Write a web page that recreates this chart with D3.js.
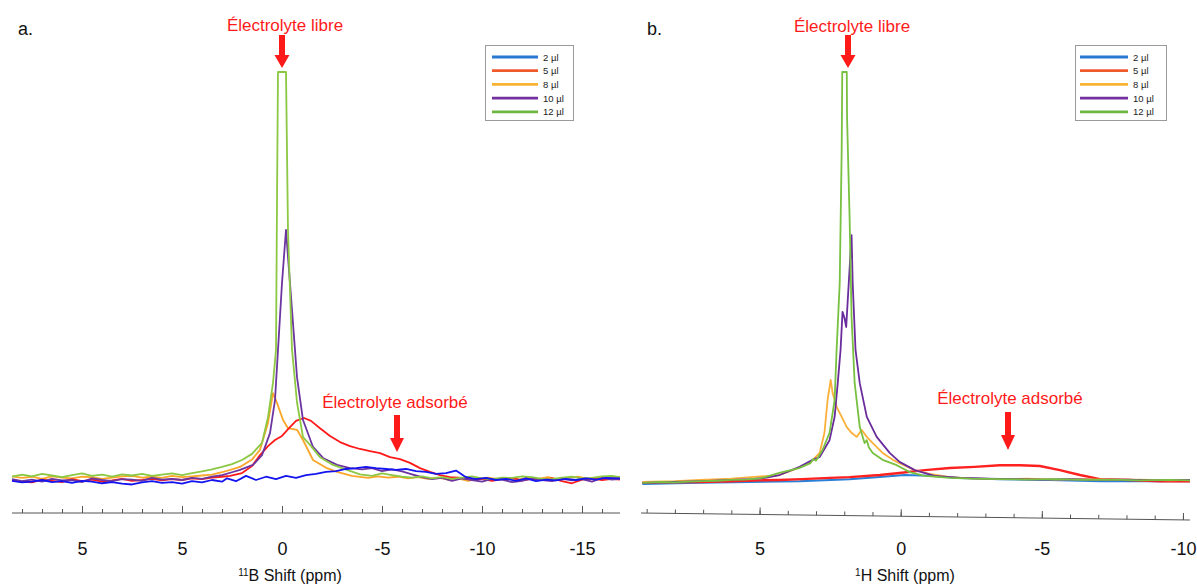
<!DOCTYPE html>
<html><head><meta charset="utf-8">
<script src="https://cdn.jsdelivr.net/npm/d3@7"></script>
<style>
html,body{margin:0;padding:0;background:#fff;}
svg{display:block;font-family:"Liberation Sans",Arial,sans-serif;}
</style></head>
<body>
<svg id="chart" width="1197" height="586"></svg>
<script>
// ---------------- DATA ----------------
const seriesNames = ["2 µl","5 µl","8 µl","10 µl","12 µl"];
const legendColors = ["#2a78d2","#ef5a2c","#f8b332","#7530a0","#6fb640"];

// Panel a: 11B spectra [ppm, intensity]
const a2 = [[13.5,-0.2],[13,-0.6],[12.5,-0.4],[12,0.0],[11.5,-0.5],[11,-0.3],[10.5,-0.7],[10,-0.2],[9.5,-0.4],[9,-0.8],[8.5,-0.5],[8,-0.9],[7.5,-1.1],[7,-0.6],[6.5,-0.3],[6,-0.7],[5.5,-0.5],[5,-0.9],[4.5,-0.3],[4,-0.6],[3.5,0.0],[3,-0.4],[2.75,0.4],[2.3,-0.3],[1.8,1.0],[1.3,0.0],[0.8,0.8],[0.3,0.2],[-0.2,1.0],[-0.7,0.5],[-1.2,1.2],[-1.7,1.5],[-2.2,2.0],[-2.7,2.2],[-3.2,2.7],[-3.7,2.9],[-4.2,3.2],[-4.7,2.9],[-5.2,2.7],[-5.7,2.5],[-6.2,2.7],[-6.7,2.2],[-7.2,2.0],[-7.7,1.5],[-8.2,1.7],[-8.7,2.3],[-9.2,0.7],[-9.7,0.2],[-10.2,0.5],[-10.7,0.0],[-11.2,0.3],[-11.7,-0.2],[-12.2,0.4],[-12.7,-0.3],[-13.2,0.1],[-13.7,-0.1],[-14.2,0.3],[-14.7,0.0],[-15.2,0.4],[-15.7,0.1],[-16.2,0.5],[-16.9,0.4]];
const a5 = [[13.5,0.0],[13,-0.4],[12.5,-0.6],[12,0.1],[11.5,-0.2],[11,-0.5],[10.5,0.2],[10,-0.3],[9.5,0.1],[9,-0.4],[8.5,-0.1],[8,0.3],[7.5,-0.2],[7,0.0],[6.5,0.3],[6,-0.1],[5.5,0.2],[5,0.0],[4.5,0.4],[4,0.2],[3.5,0.6],[3.0,0.8],[2.6,1.0],[2,1.7],[1.5,3.4],[1.1,6.1],[0.7,8.3],[0.35,9.8],[0,10.8],[-0.35,12.7],[-0.7,14.5],[-1.1,15.2],[-1.45,14.5],[-1.9,12.7],[-2.4,10.8],[-2.9,9.3],[-3.4,8.3],[-3.9,7.6],[-4.4,7.1],[-4.9,6.6],[-5.4,5.6],[-5.9,5.1],[-6.4,4.2],[-6.9,2.9],[-7.4,2.0],[-7.9,1.2],[-8.4,0.7],[-9,0.5],[-9.5,0.1],[-10,0.3],[-10.5,-0.2],[-11,0.2],[-11.5,0.5],[-12,-0.1],[-12.5,0.3],[-13,0.0],[-13.5,0.4],[-14,-0.3],[-14.5,-0.8],[-15,0.1],[-15.5,0.4],[-16,0.0],[-16.5,0.3],[-16.9,0.1]];
const a8 = [[13.5,0.9],[13,0.5],[12.5,0.8],[12,0.3],[11.5,0.9],[11,0.6],[10.5,0.4],[10,0.8],[9.5,0.7],[9,0.3],[8.5,0.6],[8,0.9],[7.5,1.0],[7,0.6],[6.5,0.8],[6,0.5],[5.5,1.0],[5,0.7],[4.5,0.9],[4,1.1],[3.5,1.3],[3.0,1.9],[2.5,2.6],[2.1,3.2],[1.5,5.0],[1.1,7.4],[0.7,14.0],[0.45,21.3],[0.25,18.9],[-0.05,14.7],[-0.3,12.7],[-0.75,12.3],[-1.05,9.8],[-1.55,4.9],[-2.25,2.9],[-2.75,2.0],[-3.5,1.0],[-4.3,0.5],[-4.8,0.9],[-5.3,0.6],[-5.8,0.8],[-6.3,0.4],[-6.8,0.7],[-7.3,0.3],[-7.8,0.6],[-8.3,0.1],[-8.8,0.4],[-9.3,-0.2],[-9.8,0.3],[-10.3,0.6],[-10.8,0.2],[-11.3,0.5],[-11.8,0.1],[-12.3,0.6],[-12.8,0.3],[-13.3,0.7],[-13.8,0.2],[-14.3,0.5],[-14.8,0.8],[-15.3,0.3],[-15.8,0.6],[-16.3,0.4],[-16.9,0.7]];
const a10 = [[13.5,0.2],[13,-0.3],[12.5,0.1],[12,-0.4],[11.5,0.3],[11,-0.1],[10.5,0.0],[10,-0.5],[9.5,0.4],[9,0.0],[8.5,-0.3],[8,0.2],[7.5,0.1],[7,-0.2],[6.5,0.5],[6,0.1],[5.5,0.3],[5,0.0],[4.5,0.5],[4,0.3],[3.5,0.8],[3.0,1.2],[2.5,1.9],[2.1,2.5],[1.45,3.7],[1.0,6.1],[0.6,11.5],[0.35,19.6],[0.2,31.9],[0.0,48.3],[-0.2,61.3],[-0.3,54.7],[-0.5,41.7],[-0.75,25.2],[-1.05,14.7],[-1.55,8.1],[-2.05,5.4],[-2.75,3.7],[-3.4,2.9],[-4,2.6],[-4.5,2.9],[-5,2.2],[-5.5,2.6],[-6,2.1],[-6.5,1.4],[-7,0.7],[-7.5,0.2],[-8,0.5],[-8.5,-0.2],[-9,0.4],[-9.5,0.0],[-10,-0.4],[-10.5,0.3],[-11,0.1],[-11.5,-0.5],[-12,-0.2],[-12.5,0.4],[-13,0.0],[-13.5,-0.3],[-14,0.3],[-14.5,-0.1],[-15,0.2],[-15.5,-0.4],[-16,0.5],[-16.5,0.1],[-16.9,0.3]];
const a12 = [[13.5,0.8],[13,1.3],[12.5,0.9],[12,1.5],[11.5,1.1],[11,0.7],[10.5,1.2],[10,1.6],[9.5,1.0],[9,1.3],[8.5,0.8],[8,1.4],[7.5,1.1],[7,1.5],[6.5,1.0],[6,1.3],[5.5,1.6],[5,1.2],[4.5,1.7],[4,2.1],[3.5,2.6],[3,3.2],[2.5,3.9],[2,4.9],[1.5,6.4],[1.0,9.1],[0.7,15.4],[0.45,23.8],[0.3,31.9],[0.25,68],[0.2,100],[-0.2,100],[-0.3,61],[-0.5,32],[-0.75,19],[-1.05,10.5],[-1.4,8.6],[-1.9,5.6],[-2.55,3.7],[-3.25,2.5],[-3.9,1.4],[-4.5,1.0],[-5,1.6],[-5.5,1.2],[-6,0.8],[-6.5,0.6],[-7,0.9],[-7.5,0.4],[-8,0.7],[-8.5,0.3],[-9,0.6],[-9.5,0.9],[-10,0.4],[-10.5,0.2],[-11,0.6],[-11.5,0.5],[-12,0.9],[-12.5,0.7],[-13,0.3],[-13.5,0.2],[-14,0.6],[-14.5,0.8],[-15,0.4],[-15.5,0.5],[-16,0.9],[-16.5,1.0],[-16.9,0.7]];

// Panel b: 1H spectra [ppm, intensity]
const b2 = [[9.15,-0.5],[7.13,-0.2],[5.35,0.0],[3.58,0.2],[1.81,0.7],[0.74,1.2],[-0.14,1.7],[-1.03,1.5],[-2.1,1.0],[-3.51,0.7],[-5.3,0.5],[-7.06,0.2],[-10.25,0.2]];
const b5 = [[9.15,-0.2],[8.5,-0.1],[7.13,0.0],[6,0.2],[5,0.4],[4.3,0.5],[3.5,0.7],[2.5,1.0],[1.81,1.2],[0.74,1.7],[0.04,2.2],[-0.85,2.9],[-1.74,3.4],[-2.62,3.7],[-3.51,4.1],[-4.22,4.1],[-4.93,3.9],[-5.64,2.9],[-6.35,1.7],[-7.06,0.7],[-8.12,0.5],[-9.18,0.2],[-10.25,0.2]];
const b8 = [[9.15,0.0],[8,0.2],[7.1,0.5],[6,0.8],[5.3,1.2],[4.29,1.7],[3.83,2.9],[3.23,4.6],[2.87,7.1],[2.7,12.0],[2.59,20.0],[2.48,24.9],[2.41,21.7],[2.27,18.3],[2.09,15.9],[1.91,13.4],[1.74,12.0],[1.56,11.0],[1.38,12.7],[1.2,11.0],[0.99,9.5],[0.64,7.1],[0.28,5.4],[0.04,4.6],[-0.5,2.9],[-1.03,2.0],[-1.74,1.2],[-2.5,0.9],[-3.5,0.7],[-4.5,0.8],[-5.5,0.6],[-6.5,0.7],[-7.5,0.5],[-8.5,0.6],[-9.5,0.4],[-10.25,0.5]];
const b10 = [[9.15,-0.2],[8,0.0],[7,0.2],[6,0.5],[5.3,0.7],[4.8,1.0],[4.29,1.7],[3.58,3.7],[3.12,5.4],[2.87,6.1],[2.52,10.2],[2.34,15.9],[2.23,24.1],[2.13,32.2],[2.06,41.5],[1.99,40.0],[1.93,37.8],[1.84,48.5],[1.74,60.2],[1.7,48.5],[1.6,32.2],[1.45,24.1],[1.2,15.9],[0.85,11.0],[0.39,7.1],[0.04,4.9],[-0.5,2.9],[-1.2,1.5],[-2.1,1.0],[-3,0.8],[-4,0.7],[-5,0.6],[-6,0.7],[-7,0.5],[-8,0.6],[-9,0.4],[-10.25,0.5]];
const b12 = [[9.15,-0.2],[8.5,0.0],[8,-0.1],[7.5,0.1],[7,0.2],[6.5,0.3],[6,0.5],[5.5,0.6],[5,0.9],[4.8,1.2],[4.3,2.2],[3.6,3.4],[3.2,4.6],[3.1,5.6],[3.0,5.2],[2.77,7.8],[2.52,12.0],[2.34,20.0],[2.27,32.2],[2.16,48.5],[2.09,81],[2.07,100],[1.91,100],[1.9,89],[1.81,64.6],[1.74,40.2],[1.63,24.1],[1.45,13.4],[1.28,9.5],[1.2,10.2],[1.13,8.5],[0.99,7.1],[0.64,5.4],[0.14,4.1],[-0.32,2.4],[-0.85,1.5],[-1.74,1.0],[-2.5,0.8],[-3.5,0.7],[-4.5,0.6],[-5.5,0.7],[-6.5,0.5],[-7.5,0.6],[-8.5,0.4],[-9.5,0.5],[-10.25,0.4]];

// Tick values and labels
const ticksA = [10,5,0,-5,-10,-15];
const tickLabelsA = ["5","5","0","-5","-10","-15"];
const ticksB = [5,0,-5,-10];
const tickLabelsB = ["5","0","-5","-10"];

// ---------------- DRAW ----------------
const svg = d3.select("#chart");
const RED = "#ff1a1a";

function drawPanel(cfg){
  const x = d3.scaleLinear().domain(cfg.xDomain).range(cfg.xRange);
  const y = d3.scaleLinear().domain([0,100]).range(cfg.yRange);
  const line = d3.line().x(d=>x(d[0])).y(d=>y(d[1])).curve(d3.curveLinear);
  const g = svg.append("g");
  cfg.series.forEach(s=>{
    g.append("path").datum(s.data).attr("d",line)
      .attr("fill","none").attr("stroke",s.color)
      .attr("stroke-width",s.w||1.8).attr("stroke-linejoin","round");
  });
  const ax = svg.append("g")
    .attr("transform",`translate(0,${cfg.axisY}) rotate(${cfg.tilt},${cfg.xRange[0]},0)`);
  const minor = d3.range(Math.floor(cfg.xDomain[0]), Math.ceil(cfg.xDomain[1])-1, -1);
  ax.append("g").call(d3.axisTop(x).tickValues(minor).tickSize(4).tickFormat(""))
    .call(a=>a.select(".domain").remove());
  ax.append("g").call(d3.axisTop(x).tickValues(cfg.ticks).tickSize(7).tickFormat("").tickSizeOuter(0))
    .call(a=>a.select(".domain").attr("d",`M${cfg.xRange[0]},0H${cfg.xRange[1]}`));
  ax.selectAll("line").attr("stroke","#555");
  ax.selectAll(".domain").attr("stroke","#555");
  const lab = svg.append("g").attr("transform",`translate(0,${cfg.axisY})`)
    .call(d3.axisBottom(x).tickValues(cfg.ticks).tickSize(0).tickPadding(29)
      .tickFormat((d,i)=>cfg.tickLabels[i]));
  lab.select(".domain").remove();
  lab.selectAll("text").attr("font-size",18).attr("fill","#111")
    .attr("font-family","'Liberation Sans',Arial,sans-serif");
  const t = svg.append("text").attr("x",cfg.titleX).attr("y",581)
    .attr("text-anchor","middle").attr("font-size",16).attr("fill","#111");
  t.append("tspan").attr("font-size",10).attr("dy",-5).text(cfg.sup);
  t.append("tspan").attr("dy",5).text(cfg.title);
  return {x,y};
}

function arrow(cx, y0, yHead, yTip, shaftW, headW){
  svg.append("path")
    .attr("d",`M${cx-shaftW/2},${y0}H${cx+shaftW/2}V${yHead}H${cx+headW/2}L${cx},${yTip}L${cx-headW/2},${yHead}H${cx-shaftW/2}Z`)
    .attr("fill",RED);
}
function label(txt,x,y){
  svg.append("text").attr("x",x).attr("y",y).attr("text-anchor","middle")
    .attr("font-size",17).attr("fill",RED).text(txt);
}
function legend(x0,y0,w,h,lx0,lx1){
  const g = svg.append("g");
  g.append("rect").attr("x",x0).attr("y",y0).attr("width",w).attr("height",h)
    .attr("fill","#fff").attr("stroke","#9a9a9a").attr("stroke-width",1);
  seriesNames.forEach((n,i)=>{
    const yy = y0+11.5+i*13.7;
    g.append("line").attr("x1",lx0).attr("x2",lx1).attr("y1",yy).attr("y2",yy)
      .attr("stroke",legendColors[i]).attr("stroke-width",2.8);
    g.append("text").attr("x",lx1+5).attr("y",yy+3.5).attr("font-size",9.5)
      .attr("fill","#222").text(n);
  });
}

drawPanel({
  xDomain:[13.5,-16.9], xRange:[12,620], yRange:[480,72], axisY:513, tilt:0,
  ticks:ticksA, tickLabels:tickLabelsA, titleX:290, sup:"11", title:"B Shift (ppm)",
  series:[
    {data:a8, color:"#f9a62a"},
    {data:a5, color:"#ff1a1a"},
    {data:a10,color:"#6c35a0"},
    {data:a12,color:"#8cc843"},
    {data:a2, color:"#1414f0"}
  ]
});
drawPanel({
  xDomain:[9.2,-10.25], xRange:[641,1190], yRange:[482,72], axisY:513, tilt:0.73,
  ticks:ticksB, tickLabels:tickLabelsB, titleX:905, sup:"1", title:"H Shift (ppm)",
  series:[
    {data:b2, color:"#2a80d8", w:2},
    {data:b5, color:"#ff2020", w:2.4},
    {data:b8, color:"#fbb03b"},
    {data:b10,color:"#6a2c9c"},
    {data:b12,color:"#78c040"}
  ]
});

svg.append("text").attr("x",18).attr("y",35).attr("font-size",18).attr("fill","#111").text("a.");
svg.append("text").attr("x",647).attr("y",35).attr("font-size",18).attr("fill","#111").text("b.");

label("Électrolyte libre",285,31);
arrow(282,35,55,68,6,15);
label("Électrolyte libre",852,32);
arrow(848,35,55,68,6,15);
label("Électrolyte adsorbé",395,408);
arrow(397,415,438,452,6,14);
label("Électrolyte adsorbé",1010,404);
arrow(1008,412,435,450,6,14);

legend(485.5,45.5,88,75,492,538);
legend(1075.5,45.5,91,75,1080,1128);
</script>
</body></html>
